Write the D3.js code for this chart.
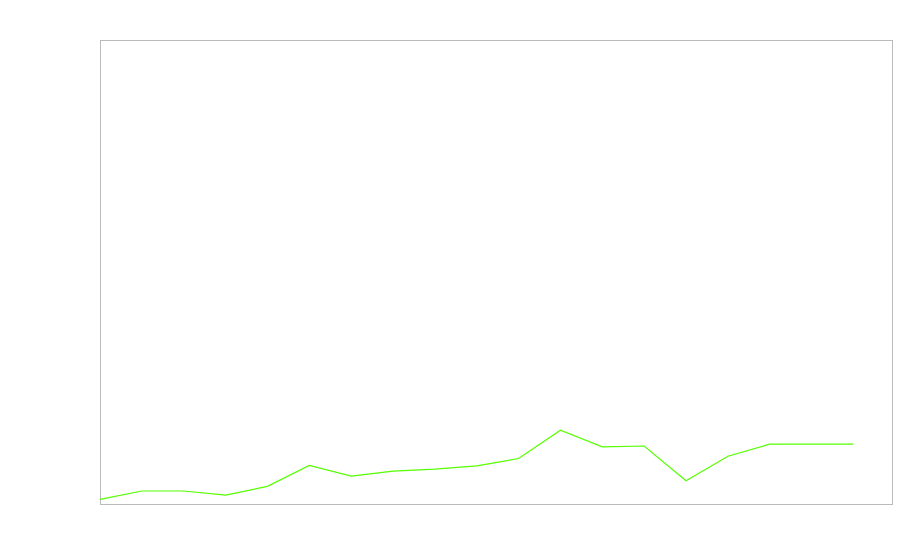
<!DOCTYPE html>
<html>
<head>
<meta charset="utf-8">
<script src="https://cdn.jsdelivr.net/npm/d3@7"></script>
<style>
  body { margin: 0; background: #fff; }
</style>
</head>
<body>
<script>
// values, one per step
var steps = d3.range(0, 19);
var values = [1.0, 2.8, 2.8, 1.9, 3.8, 8.3, 6.0, 7.1, 7.5, 8.2, 9.8, 15.9, 12.3, 12.5, 5.0, 10.3, 12.9, 12.9, 12.9];

var margin = { top: 40, right: 8, bottom: 56, left: 100 },
    width = 900,
    height = 560,
    innerW = width - margin.left - margin.right,
    innerH = height - margin.top - margin.bottom;

var svg = d3.select("body").append("svg")
    .attr("width", width)
    .attr("height", height)
    .append("g")
    .attr("transform", "translate(" + margin.left + "," + margin.top + ")");

var x = d3.scaleLinear().domain([0, 18.92]).range([0, innerW]);
var y = d3.scaleLinear().domain([0, 100]).range([innerH, 0]);

// frame
svg.append("rect")
    .attr("x", 0.5)
    .attr("y", 0.5)
    .attr("width", innerW)
    .attr("height", innerH)
    .attr("fill", "none")
    .attr("stroke", "#bbbbbb")
    .attr("stroke-width", 1);

var line = d3.line()
    .x(function (d, i) { return x(steps[i]); })
    .y(function (d) { return y(d); });

svg.append("path")
    .datum(values)
    .attr("fill", "none")
    .attr("stroke", "#55ff00")
    .attr("stroke-width", 1.2)
    .attr("d", line);
</script>
</body>
</html>
